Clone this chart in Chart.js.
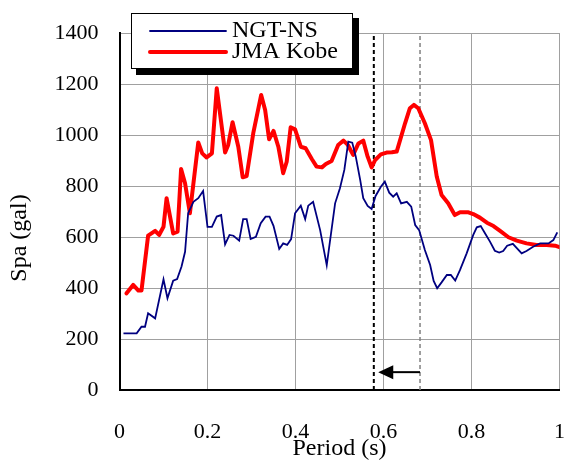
<!DOCTYPE html>
<html>
<head>
<meta charset="utf-8">
<script src="https://cdn.jsdelivr.net/npm/chart.js@4"></script>
<style>
  html, body { margin: 0; padding: 0; background: #fff; }
  canvas { display: block; }
</style>
</head>
<body>
<canvas id="spaChart" width="565" height="461"></canvas>
<script>
// response spectra
const ngtPeriod = [0.009, 0.039, 0.05, 0.058, 0.065, 0.081, 0.1, 0.109, 0.122, 0.131, 0.141, 0.149, 0.156, 0.168, 0.179, 0.19,
  0.2, 0.21, 0.221, 0.231, 0.24, 0.25, 0.259, 0.272, 0.281, 0.289, 0.298, 0.31, 0.321, 0.332, 0.341, 0.35, 0.363, 0.372, 0.381, 0.39,
  0.399, 0.412, 0.422, 0.429, 0.44, 0.456, 0.471, 0.49, 0.501, 0.511, 0.52, 0.529, 0.537, 0.547, 0.554, 0.564, 0.573, 0.582, 0.594,
  0.603, 0.613, 0.622, 0.63, 0.64, 0.653, 0.663, 0.672, 0.681, 0.694, 0.706, 0.714, 0.722, 0.732, 0.744, 0.753, 0.763, 0.774, 0.789,
  0.804, 0.812, 0.821, 0.831, 0.842, 0.853, 0.863, 0.872, 0.881, 0.894, 0.903, 0.914, 0.925, 0.94, 0.956, 0.975, 0.986, 0.995];
const ngtSpa = [222, 222, 248, 248, 301, 281, 434, 360, 429, 435, 484, 542, 693, 738, 752, 780,
  640, 640, 680, 686, 571, 608, 605, 586, 670, 670, 592, 601, 654, 680, 680, 644, 553, 575, 569, 592,
  693, 723, 670, 723, 738, 627, 490, 732, 791, 863, 974, 970, 915, 824, 752, 722, 710, 761, 797,
  817, 774, 758, 771, 732, 738, 719, 647, 627, 549, 490, 428, 399, 422, 451, 451, 429, 471, 536,
  608, 638, 643, 614, 582, 546, 539, 545, 566, 573, 556, 536, 545, 562, 575, 575, 588, 618];

const kobePeriod = [0.016, 0.031, 0.043, 0.05, 0.065, 0.081, 0.09, 0.1, 0.107, 0.122, 0.132, 0.14, 0.149, 0.16, 0.179, 0.188,
  0.198, 0.21, 0.221, 0.24, 0.247, 0.257, 0.27, 0.28, 0.289, 0.304, 0.322, 0.331, 0.34, 0.35, 0.361, 0.372, 0.38, 0.389, 0.399,
  0.412, 0.423, 0.437, 0.448, 0.46, 0.469, 0.482, 0.497, 0.509, 0.519, 0.531, 0.543, 0.554, 0.564, 0.573, 0.581, 0.594, 0.607,
  0.619, 0.63, 0.649, 0.66, 0.669, 0.679, 0.694, 0.708, 0.721, 0.732, 0.747, 0.762, 0.774, 0.793, 0.804, 0.819, 0.835, 0.85,
  0.865, 0.884, 0.903, 0.925, 0.948, 0.971, 0.99, 1.0];
const kobeSpa = [379, 412, 390, 390, 605, 624, 608, 640, 752, 614, 621, 867, 811, 693, 971, 928,
  912, 928, 1183, 931, 961, 1050, 954, 834, 839, 1007, 1157, 1098, 983, 1016, 954, 850, 895, 1030, 1022,
  954, 948, 906, 876, 873, 886, 898, 961, 978, 961, 922, 967, 978, 915, 873, 902, 924, 931,
  932, 935, 1046, 1105, 1118, 1105, 1046, 980, 837, 765, 732, 686, 697, 697, 690, 676, 656, 643,
  624, 599, 586, 575, 569, 569, 566, 560];

const xTicks = [0, 0.2, 0.4, 0.6, 0.8, 1];
const xTickLabels = ['0', '0.2', '0.4', '0.6', '0.8', '1'];
const yTicks = [0, 200, 400, 600, 800, 1000, 1200, 1400];

// dashed period markers and the shift arrow between them
const markerPeriods = [0.578, 0.683];
const arrowFrom = 0.683;
const arrowTo = 0.588;
const arrowLevel = 70;

const seriesNames = ['NGT-NS', 'JMA Kobe'];
const serif = "'Liberation Serif', 'Times New Roman', serif";

function toPoints(xs, ys) {
  return xs.map((x, i) => ({ x: x, y: ys[i] }));
}

const overlay = {
  id: 'overlay',
  afterDraw(chart) {
    const ctx = chart.ctx;
    const xs = chart.scales.x, ys = chart.scales.y;

    // arrow
    const ay = ys.getPixelForValue(arrowLevel);
    const tip = xs.getPixelForValue(arrowTo);
    ctx.save();
    ctx.strokeStyle = '#000';
    ctx.fillStyle = '#000';
    ctx.lineWidth = 2;
    ctx.beginPath();
    ctx.moveTo(xs.getPixelForValue(arrowFrom), ay);
    ctx.lineTo(tip + 12, ay);
    ctx.stroke();
    ctx.beginPath();
    ctx.moveTo(tip, ay);
    ctx.lineTo(tip + 15, ay - 7);
    ctx.lineTo(tip + 15, ay + 7);
    ctx.closePath();
    ctx.fill();

    // y title
    ctx.font = '24px ' + serif;
    ctx.textAlign = 'center';
    ctx.textBaseline = 'middle';
    ctx.translate(20, 238);
    ctx.rotate(-Math.PI / 2);
    ctx.fillText('Spa (gal)', 0, 0);
    ctx.restore();

    // legend box with shadow
    ctx.save();
    ctx.fillStyle = '#000';
    ctx.fillRect(136, 18, 223, 57);
    ctx.fillStyle = '#fff';
    ctx.fillRect(131, 13, 222, 56);
    ctx.strokeStyle = '#000';
    ctx.lineWidth = 1;
    ctx.strokeRect(131.5, 13.5, 221, 55);
    ctx.lineCap = 'round';
    ctx.strokeStyle = '#000080';
    ctx.lineWidth = 1.8;
    ctx.beginPath(); ctx.moveTo(150, 31); ctx.lineTo(226, 31); ctx.stroke();
    ctx.strokeStyle = '#ff0000';
    ctx.lineWidth = 4;
    ctx.beginPath(); ctx.moveTo(150, 52); ctx.lineTo(226, 52); ctx.stroke();
    ctx.fillStyle = '#000';
    ctx.font = '24px ' + serif;
    ctx.textAlign = 'left';
    ctx.textBaseline = 'middle';
    ctx.fillText(seriesNames[0], 232, 31);
    ctx.fillText(seriesNames[1], 232, 52);
    ctx.restore();
  }
};

new Chart(document.getElementById('spaChart'), {
  type: 'line',
  data: {
    datasets: [
      {
        label: seriesNames[0],
        data: toPoints(ngtPeriod, ngtSpa),
        borderColor: '#000080',
        borderWidth: 1.8,
        pointRadius: 0,
        tension: 0
      },
      {
        label: seriesNames[1],
        data: toPoints(kobePeriod, kobeSpa),
        borderColor: '#ff0000',
        borderWidth: 4,
        borderJoinStyle: 'round',
        borderCapStyle: 'round',
        pointRadius: 0,
        tension: 0
      },
      {
        data: [{ x: markerPeriods[0], y: 0 }, { x: markerPeriods[0], y: 1400 }],
        borderColor: '#000',
        borderWidth: 2,
        borderDash: [4, 3],
        pointRadius: 0
      },
      {
        data: [{ x: markerPeriods[1], y: 0 }, { x: markerPeriods[1], y: 1400 }],
        borderColor: '#808080',
        borderWidth: 1.5,
        borderDash: [4, 3],
        pointRadius: 0
      }
    ]
  },
  options: {
    responsive: false,
    animation: false,
    devicePixelRatio: 1,
    layout: { padding: { top: 33, right: 5.5, left: 0, bottom: 0 } },
    plugins: { legend: { display: false }, tooltip: { enabled: false } },
    scales: {
      x: {
        type: 'linear',
        min: 0,
        max: 1,
        afterBuildTicks: s => { s.ticks = xTicks.map(v => ({ value: v })); },
        afterFit: s => { s.height = 71; },
        ticks: {
          callback: (v, i) => xTickLabels[i],
          color: '#000',
          padding: 0,
          maxRotation: 0,
          font: { family: serif, size: 22 }
        },
        grid: { color: '#a0a0a0', lineWidth: 1, drawTicks: true, tickLength: 29, tickColor: 'rgba(0,0,0,0)' },
        border: { color: '#000', width: 2 },
        title: {
          display: true,
          text: 'Period (s)',
          color: '#000',
          padding: 0,
          font: { family: serif, size: 24, lineHeight: 1 }
        }
      },
      y: {
        min: 0,
        max: 1400,
        afterBuildTicks: s => { s.ticks = yTicks.map(v => ({ value: v })); },
        afterFit: s => { s.width = 119.5; },
        ticks: {
          callback: v => String(v),
          color: '#000',
          padding: 0,
          font: { family: serif, size: 22 }
        },
        grid: { color: '#a0a0a0', lineWidth: 1, drawTicks: true, tickLength: 21, tickColor: 'rgba(0,0,0,0)' },
        border: { color: '#000', width: 2 }
      }
    }
  },
  plugins: [overlay]
});
</script>
</body>
</html>
